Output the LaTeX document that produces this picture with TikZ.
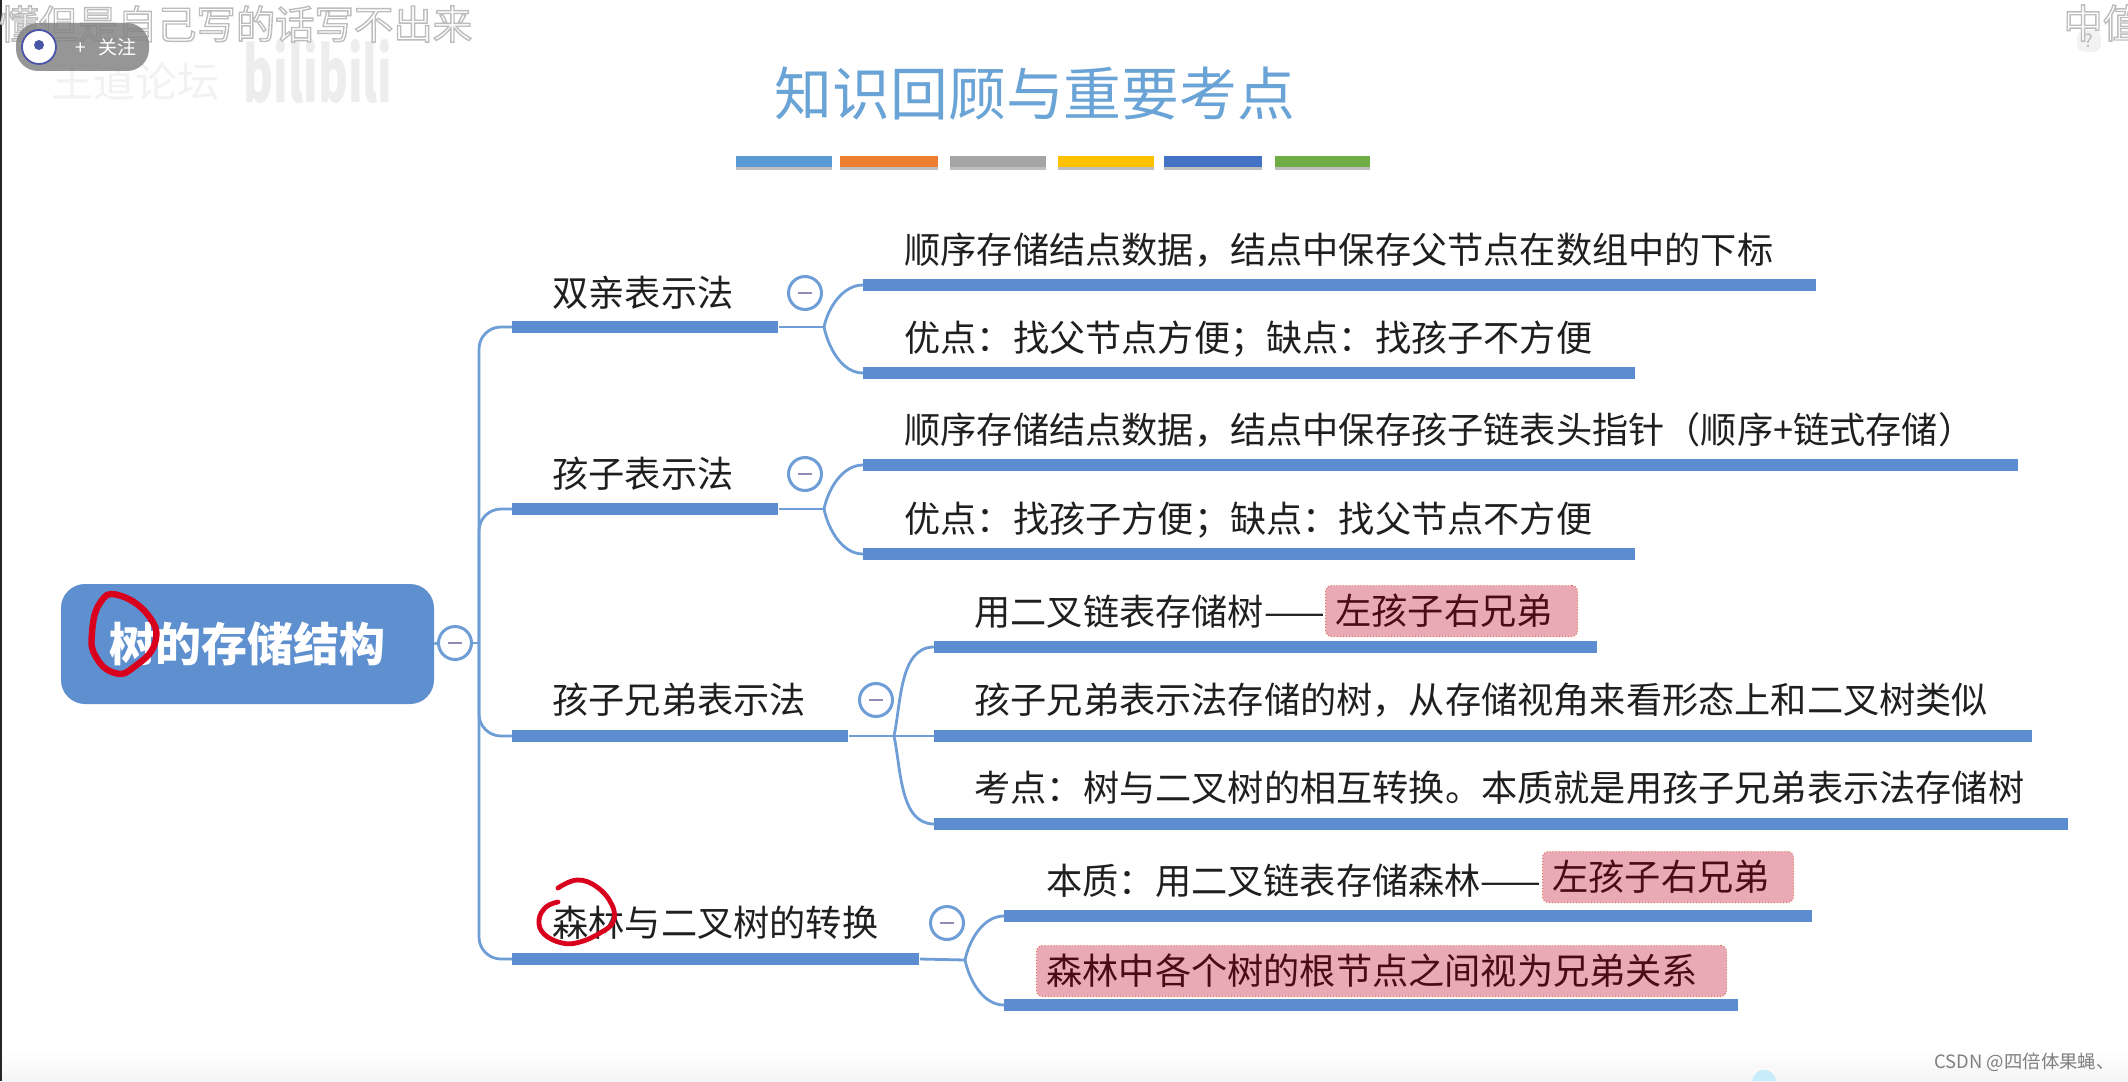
\documentclass[tikz,border=0pt]{standalone}
\usepackage{fontspec}
\setmainfont{Noto Sans CJK SC}
\definecolor{barblue}{HTML}{5B8DD0}
\definecolor{linkblue}{HTML}{6F9DD6}
\definecolor{rootblue}{HTML}{5E90D0}
\definecolor{titleblue}{HTML}{6AA3D5}
\definecolor{hlpink}{HTML}{E9AAB5}
\definecolor{hlred}{HTML}{E0705A}
\definecolor{hltext}{HTML}{4A0A18}
\definecolor{inkred}{HTML}{D8001C}
\definecolor{minusgray}{HTML}{8F8CB8}
\definecolor{stripea}{HTML}{5B9BD5}
\definecolor{stripeb}{HTML}{ED7D31}
\definecolor{stripec}{HTML}{A5A5A5}
\definecolor{striped}{HTML}{FFC000}
\definecolor{stripee}{HTML}{4472C4}
\definecolor{stripef}{HTML}{70AD47}
\definecolor{logoblue}{HTML}{4B55A8}
\tikzset{
  barbox/.style={fill=barblue,anchor=west,inner sep=0pt,minimum height=5.8pt},
  link/.style={draw=linkblue,line width=1.4pt},
  dotbox/.style={circle,draw=linkblue,line width=1.5pt,fill=white,inner sep=0pt,minimum size=16.5pt,
    path picture={\draw[minusgray,line width=1.4pt] ([xshift=-3.4pt]path picture bounding box.center) -- ([xshift=3.4pt]path picture bounding box.center);}},
  branchtext/.style={anchor=west,inner sep=0pt,font=\fontsize{18.1}{18.1}\selectfont,text=black!88},
  leaftext/.style={branchtext},
  hlbox/.style={draw=hlred,densely dotted,line width=0.5pt,fill=hlpink,rounded corners=3pt,anchor=west,
    inner xsep=5pt,inner ysep=0pt,minimum height=25.5pt,align=left,text=hltext,
    font=\fontsize{18.1}{18.1}\selectfont,text width=#1},
  stripe/.style={line width=5.5pt},
  ink/.style={draw=inkred,line width=3.2pt,line cap=round,line join=round},
  sidetext/.style={anchor=west,inner sep=0pt,font=\fontsize{19.7}{19.7}\selectfont}
}
\begin{document}
\begin{tikzpicture}[x=0.5pt,y=-0.5pt]
  \useasboundingbox (0,0) rectangle (2128,1081);
  \fill[white] (0,0) rectangle (2128,1081);
  \fill[black!85] (0,0) rectangle (2,1081);
  \shade[top color=white,bottom color=black!4] (2,1050) rectangle (2128,1081);
  \fill[cyan!22] (1752,1081) .. controls (1755,1066) and (1773,1066) .. (1776,1081);

  % title and colour stripes
  \node[font=\fontsize{28.9}{28.9}\selectfont,text=titleblue,inner sep=0pt] (title) at (1035,94) {知识回顾与重要考点};
  \draw[stripe,draw=black!25] (736,164) -- (832,164);
  \draw[stripe,draw=black!25] (840,164) -- (938,164);
  \draw[stripe,draw=black!25] (950,164) -- (1046,164);
  \draw[stripe,draw=black!25] (1058,164) -- (1154,164);
  \draw[stripe,draw=black!25] (1164,164) -- (1262,164);
  \draw[stripe,draw=black!25] (1275,164) -- (1370,164);
  \draw[stripe,draw=stripea] (736,161.5) -- (832,161.5);
  \draw[stripe,draw=stripeb] (840,161.5) -- (938,161.5);
  \draw[stripe,draw=stripec] (950,161.5) -- (1046,161.5);
  \draw[stripe,draw=striped] (1058,161.5) -- (1154,161.5);
  \draw[stripe,draw=stripee] (1164,161.5) -- (1262,161.5);
  \draw[stripe,draw=stripef] (1275,161.5) -- (1370,161.5);

  % root
  \node[fill=rootblue,rounded corners=12pt,minimum width=186.5pt,minimum height=60pt,inner sep=0pt,
    text=white,font=\fontsize{23}{23}\selectfont\bfseries] (root) at (247.5,644) {树的存储结构};
  \node[dotbox] (rootdot) at (455,643) {};
  \coordinate (spine) at (479,643);
  \draw[link] (root.east) -- (rootdot.west);
  \draw[link] (rootdot.east) -- (spine);

  % branches
  \node[barbox,minimum width=133pt] (pbar) at (512,327) {};
  \node[barbox,minimum width=133pt] (cbar) at (512,509) {};
  \node[barbox,minimum width=168pt] (sbar) at (512,736) {};
  \node[barbox,minimum width=203.5pt] (fbar) at (512,959) {};
  \node[branchtext] (ptext) at (552,293) {双亲表示法};
  \node[branchtext] (ctext) at (552,474) {孩子表示法};
  \node[branchtext] (stext) at (552,700) {孩子兄弟表示法};
  \node[branchtext] (ftext) at (552,923) {森林与二叉树的转换};
  \node[dotbox] (pdot) at (805,293) {};
  \node[dotbox] (cdot) at (805,474) {};
  \node[dotbox] (sdot) at (876,700) {};
  \node[dotbox] (fdot) at (947,923) {};
  \draw[link,rounded corners=11pt] (spine) |- (pbar.west);
  \draw[link,rounded corners=11pt] (spine) |- (cbar.west);
  \draw[link,rounded corners=11pt] (spine) |- (sbar.west);
  \draw[link,rounded corners=11pt] (spine) |- (fbar.west);

  % leaves of the first branch
  \node[barbox,minimum width=476.5pt] (pbara) at (863,285) {};
  \node[barbox,minimum width=386pt] (pbarb) at (863,373) {};
  \node[leaftext] (ptexta) at (904,250) {顺序存储结点数据，结点中保存父节点在数组中的下标};
  \node[leaftext] (ptextb) at (904,339) {优点：找父节点方便；缺点：找孩子不方便};
  \coordinate (pjoin) at (824,327);
  \draw[link] (pbar.east) -- (pjoin);
  \draw[link] (pjoin) to[out=78,in=180,looseness=0.9] (pbara.west);
  \draw[link] (pjoin) to[out=-78,in=180,looseness=0.9] (pbarb.west);

  % leaves of the second branch
  \node[barbox,minimum width=577.5pt] (cbara) at (863,465) {};
  \node[barbox,minimum width=386pt] (cbarb) at (863,554) {};
  \node[leaftext] (ctexta) at (904,430) {顺序存储结点数据，结点中保存孩子链表头指针（顺序+链式存储）};
  \node[leaftext] (ctextb) at (904,520) {优点：找孩子方便；缺点：找父节点不方便};
  \coordinate (cjoin) at (824,509);
  \draw[link] (cbar.east) -- (cjoin);
  \draw[link] (cjoin) to[out=78,in=180,looseness=0.9] (cbara.west);
  \draw[link] (cjoin) to[out=-78,in=180,looseness=0.9] (cbarb.west);

  % leaves of the third branch
  \node[barbox,minimum width=331.5pt] (sbara) at (934,647) {};
  \node[barbox,minimum width=549pt] (sbarb) at (934,736) {};
  \node[barbox,minimum width=567pt] (sbarc) at (934,824) {};
  \node[hlbox=116pt] (shl) at (1325,611) {左孩子右兄弟};
  \node[leaftext] (stexta) at (974,612) {用二叉链表存储树——};
  \node[leaftext] (stextb) at (974,700) {孩子兄弟表示法存储的树，从存储视角来看形态上和二叉树类似};
  \node[leaftext] (stextc) at (974,788) {考点：树与二叉树的相互转换。本质就是用孩子兄弟表示法存储树};
  \coordinate (sjoin) at (894,736);
  \draw[link] (sbar.east) -- (sjoin);
  \draw[link] (sjoin) to[out=78,in=180,looseness=0.9] (sbara.west);
  \draw[link] (sjoin) -- (sbarb.west);
  \draw[link] (sjoin) to[out=-78,in=180,looseness=0.9] (sbarc.west);

  % leaves of the fourth branch
  \node[barbox,minimum width=404pt] (fbara) at (1004,916) {};
  \node[barbox,minimum width=367pt] (fbarb) at (1004,1005) {};
  \node[hlbox=115.5pt] (fhla) at (1542,877) {左孩子右兄弟};
  \node[hlbox=335pt] (fhlb) at (1036,971) {森林中各个树的根节点之间视为兄弟关系};
  \node[leaftext] (ftexta) at (1046,881) {本质：用二叉链表存储森林——};
  \coordinate (fjoin) at (965,960);
  \draw[link] (fbar.east) -- (fjoin);
  \draw[link] (fjoin) to[out=78,in=180,looseness=0.9] (fbara.west);
  \draw[link] (fjoin) to[out=-78,in=180,looseness=0.9] (fbarb.west);

  % pen marks
  \draw[ink] plot[smooth cycle,tension=0.8] coordinates {(118,595) (148,615) (155,643) (134,667) (115,673) (96,657) (92,633) (100,603)};
  \draw[ink,line width=2.4pt] plot[smooth,tension=0.7] coordinates {(558,888) (577,880) (597,887) (612,905) (613,922) (600,933) (580,942) (562,943) (544,934) (539,920) (546,907) (558,902)};

  % video overlay
  \node[font=\fontsize{21}{21}\selectfont,text=black!5,inner sep=0pt] (forum) at (135,81) {王道论坛};
  \node[font=\fontsize{38}{38}\selectfont\bfseries,text=black!7,inner sep=0pt,transform shape,xscale=0.6] (bili) at (318,71) {bilibili};
  \node[sidetext] (subtitle) at (-1,24)
    {\special{pdf:code q 2 Tr 0.7 w 0.74 G 1 g}懂但是自己写的话写不出来\special{pdf:code Q}};
  \node[rounded corners=4pt,fill=black!5,minimum width=12pt,minimum height=11pt,inner sep=0pt,
    text=black!28,font=\fontsize{9}{9}\selectfont] (help) at (2089,41) {?};
  \node[sidetext] (subtitler) at (2063,23)
    {\special{pdf:code q 2 Tr 0.7 w 0.74 G 1 g}中值\special{pdf:code Q}};
  \node[fill=black!50,opacity=0.82,rounded corners=11pt,minimum width=66.5pt,minimum height=24pt,inner sep=0pt] (pill) at (82.5,47) {};
  \node[circle,draw=logoblue,line width=0.9pt,fill=white,minimum size=17pt,inner sep=0pt] (logo) at (39,47) {};
  \node[circle,fill=logoblue,minimum size=5pt,inner sep=0pt] (logomark) at (39,45) {};
  \node[text=white,inner sep=0pt,font=\fontsize{9.5}{9.5}\selectfont] (follow) at (106,47) {+\ \ \ 关注};

  % watermark
  \node[anchor=east,inner sep=0pt,text=black!50,font=\fontsize{9.2}{9.2}\selectfont] (csdn) at (2115,1062) {CSDN @四倍体果蝇、};
\end{tikzpicture}
\end{document}
